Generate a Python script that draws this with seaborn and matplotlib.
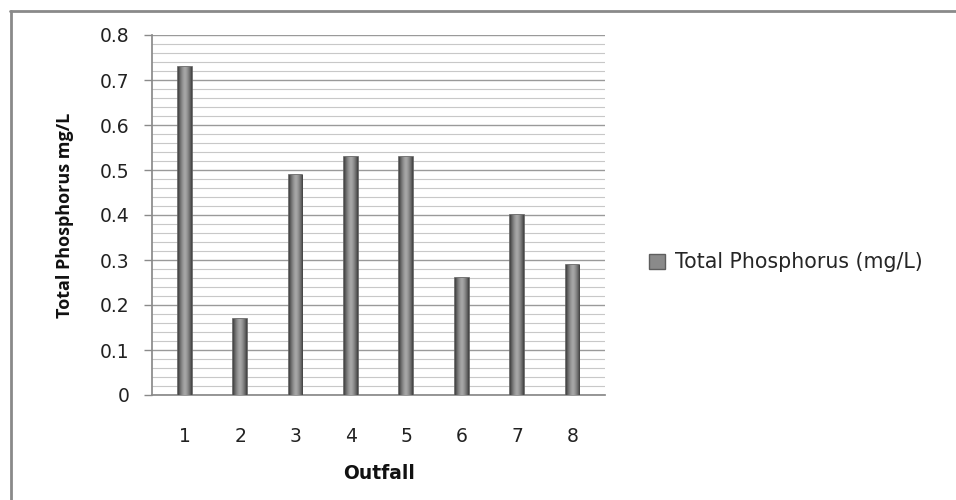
import matplotlib
matplotlib.use("Agg")
import matplotlib.pyplot as plt
from matplotlib.lines import Line2D
from matplotlib.patches import Patch
from matplotlib.ticker import MultipleLocator
import numpy as np
import seaborn as sns
import pandas as pd

outfalls = ["1", "2", "3", "4", "5", "6", "7", "8"]
phosphorus = [0.73, 0.17, 0.49, 0.53, 0.53, 0.26, 0.40, 0.29]
series_name = "Total Phosphorus (mg/L)"

sns.set_theme(style="white")
plt.rcParams["font.family"] = ["DejaVu Sans"]

df = pd.DataFrame({"Outfall": outfalls, "TP": phosphorus})

fig = plt.figure(figsize=(9.56, 5.0), dpi=100)
ax = fig.add_axes([0.159, 0.21, 0.474, 0.72])

sns.barplot(data=df, x="Outfall", y="TP", ax=ax, width=0.25,
            color="#8a8a8a", edgecolor="#5e5e5e", linewidth=1.2,
            saturation=1, zorder=3)

# cylinder-like horizontal shading on each bar
shade = np.abs(np.linspace(-1, 1, 64)) ** 1.6
shade = shade[np.newaxis, :]
for bar in list(ax.patches):
    x0, w, h = bar.get_x(), bar.get_width(), bar.get_height()
    im = ax.imshow(shade, cmap="Greys", vmin=-1.2, vmax=1.5,
                   extent=(x0, x0 + w, 0, h), aspect="auto",
                   interpolation="bicubic", zorder=3.5)
    im.set_clip_path(bar)
ax.set_ylim(0, 0.8)
ax.set_xlim(-0.59, 7.59)

ax.yaxis.set_major_locator(MultipleLocator(0.1))
ax.yaxis.set_minor_locator(MultipleLocator(0.02))
ax.set_yticks([i / 10 for i in range(9)])
ax.set_yticklabels(["0"] + [f"{i / 10:.1f}" for i in range(1, 9)])
ax.grid(True, which="major", axis="y", color="#9a9a9a", linewidth=1.0, zorder=0)
ax.grid(True, which="minor", axis="y", color="#c8c8c8", linewidth=0.8, zorder=0)

for side in ["top", "right"]:
    ax.spines[side].set_visible(False)
ax.spines["left"].set_color("#8a8a8a")
ax.spines["bottom"].set_color("#8a8a8a")
ax.tick_params(axis="y", which="major", left=True, length=6, width=1,
               color="#8a8a8a", labelsize=13.5, pad=10, labelcolor="#222222")
ax.tick_params(axis="y", which="minor", left=False)
ax.tick_params(axis="x", bottom=False, labelsize=13.5, pad=17, labelcolor="#222222")

ax.set_xlabel("Outfall", fontsize=13.5, fontweight="bold", labelpad=13, color="#111111")
ax.set_ylabel("Total Phosphorus mg/L", fontsize=13, fontweight="bold",
              labelpad=19, color="#111111", family="Open Sans",
              fontstretch="condensed")

handle = Patch(facecolor="#8a8a8a", edgecolor="#5e5e5e", linewidth=1)
fig.legend([handle], [series_name], loc="center left",
           bbox_to_anchor=(0.660, 0.475), frameon=False, fontsize=14.8,
           handlelength=0.75, handleheight=0.75, handletextpad=0.5)

# outer chart border
fig.add_artist(Line2D([0.010, 1.0], [0.978, 0.978], transform=fig.transFigure,
                      color="#8a8a8a", linewidth=2))
fig.add_artist(Line2D([0.011, 0.011], [0.0, 0.978], transform=fig.transFigure,
                      color="#8a8a8a", linewidth=2))

fig.savefig("out.png", dpi=100)
